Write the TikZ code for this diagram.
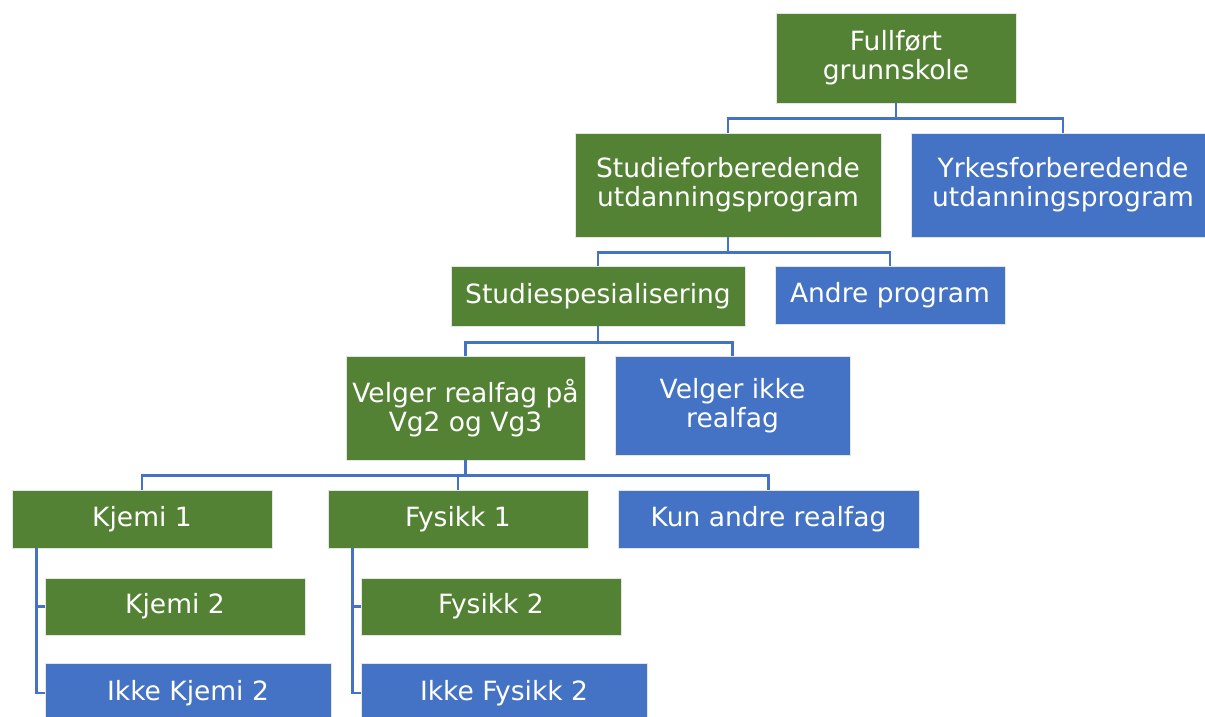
\documentclass[tikz,border=0pt]{standalone}
\usepackage{fontspec}
\setmainfont{DejaVu Sans}
\definecolor{gbox}{HTML}{548235}
\definecolor{bbox}{HTML}{4472C4}
\definecolor{conn}{HTML}{4472C4}
\begin{document}
\begin{tikzpicture}[x=1pt,y=-1pt,
  boxbase/.style={draw=white!80!gray, line width=0.6pt, inner sep=0pt, align=center,
    text=white, font=\fontsize{26.5}{29}\selectfont},
  gnode/.style={boxbase, fill=gbox},
  bnode/.style={boxbase, fill=bbox},
  link/.style={draw=conn, line width=2.8pt}]
\useasboundingbox (0,0) rectangle (1205,717);
\clip (0,0) rectangle (1205,717);
\node[gnode, minimum width=240pt, minimum height=90pt] (full) at (896,58) {Fullført\\grunnskole};
\node[gnode, minimum width=306pt, minimum height=104pt] (stud) at (728,185) {Studieforberedende\\utdanningsprogram};
\node[bnode, minimum width=304pt, minimum height=104pt] (yrk) at (1063,185) {Yrkesforberedende\\utdanningsprogram};
\node[gnode, minimum width=294pt, minimum height=60pt] (spes) at (598,296) {Studiespesialisering};
\node[bnode, minimum width=230pt, minimum height=58pt] (andre) at (890,295) {Andre program};
\node[gnode, minimum width=239pt, minimum height=104pt] (velg) at (465.5,408) {Velger realfag på\\Vg2 og Vg3};
\node[bnode, minimum width=235pt, minimum height=99pt] (ikke) at (732.5,405.5) {Velger ikke\\realfag};
\node[gnode, minimum width=260pt, minimum height=58pt] (kj1) at (142,519) {Kjemi 1};
\node[gnode, minimum width=260pt, minimum height=58pt] (fy1) at (458,519) {Fysikk 1};
\node[bnode, minimum width=301pt, minimum height=58pt] (kun) at (768.5,519) {Kun andre realfag};
\node[gnode, minimum width=260pt, minimum height=57pt] (kj2) at (175,606.5) {Kjemi 2};
\node[bnode, minimum width=286pt, minimum height=60pt] (ikj2) at (188,693) {Ikke Kjemi 2};
\node[gnode, minimum width=260pt, minimum height=57pt] (fy2) at (491,606.5) {Fysikk 2};
\node[bnode, minimum width=286pt, minimum height=60pt] (ify2) at (504,693) {Ikke Fysikk 2};
% connectors
\draw[link] (full.south) -- ++(0,15) -| (stud.north);
\draw[link] (full.south) -- ++(0,15) -| (yrk.north);
\draw[link] (stud.south) -- ++(0,15) -| (spes.north);
\draw[link] (stud.south) -- ++(0,15) -| (andre.north);
\draw[link] (spes.south) -- ++(0,16) -| (velg.north);
\draw[link] (spes.south) -- ++(0,16) -| (ikke.north);
\draw[link] (velg.south) -- ++(0,15) -| (kj1.north);
\draw[link] (velg.south) -- ++(0,15) -| (fy1.north);
\draw[link] (velg.south) -- ++(0,15) -| (kun.north);
\draw[link] ([xshift=25pt]kj1.south west) |- (kj2.west);
\draw[link] ([xshift=25pt]kj1.south west) |- (ikj2.west);
\draw[link] ([xshift=25pt]fy1.south west) |- (fy2.west);
\draw[link] ([xshift=25pt]fy1.south west) |- (ify2.west);
\end{tikzpicture}
\end{document}
